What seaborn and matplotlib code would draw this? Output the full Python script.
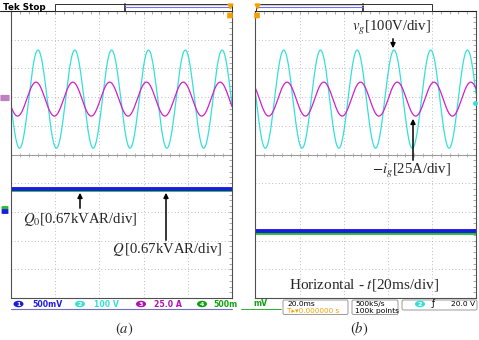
"""
Oscilloscope capture of grid voltage, grid current and reactive power,
two panels (a) and (b) side by side.
"""

import numpy as np
import pandas as pd
import matplotlib.pyplot as plt
import seaborn as sns
from matplotlib.patches import Rectangle, Ellipse, FancyBboxPatch
from matplotlib.ticker import MultipleLocator

W, H = 479, 340

# scope settings
FREQ_HZ = 60
TIME_DIV_MS = 20
N_XDIV = 5
N_YDIV = 10
VG_SCALE = 100.0     # V/div
IG_SCALE = 25.0      # A/div

# trace values
VG_PEAK = 171.0      # V
IG_PEAK = 14.8       # A
WAVE_POS_DIV = 1.93  # ch2/ch3 position
VG_FIRST_PEAK_MS = [12.2, 12.8]   # panel (a), (b)
IG_FIRST_PEAK_MS = [11.3, 14.3]
Q_LEVEL_DIV = [-1.20, -2.67]
Q0_LEVEL_DIV = [-1.25, -2.72]

PANEL_NAMES = ["(a)", "(b)"]

CYAN = "#35e0d8"
MAGENTA = "#d41ecc"
BLUE = "#1c1ce0"
GREEN = "#1fbf2a"
ORANGE = "#f5a000"
GRID = "#a8a8a8"

sns.set_style("white")
plt.rcParams["mathtext.fontset"] = "stix"
SERIF = ["Liberation Serif", "DejaVu Serif"]


def px_rect(x0, y0, x1, y1):
    return [x0 / W, 1 - y1 / H, (x1 - x0) / W, (y1 - y0) / H]


def draw_panel(ax, i):
    t = np.linspace(0, N_XDIV * TIME_DIV_MS, 1201)
    vg = VG_PEAK * np.cos(2 * np.pi * FREQ_HZ * (t - VG_FIRST_PEAK_MS[i]) / 1000)
    ig = IG_PEAK * np.cos(2 * np.pi * FREQ_HZ * (t - IG_FIRST_PEAK_MS[i]) / 1000)
    df = pd.concat([
        pd.DataFrame({"t": t, "div": vg / VG_SCALE + WAVE_POS_DIV, "trace": "vg"}),
        pd.DataFrame({"t": t, "div": ig / IG_SCALE + WAVE_POS_DIV, "trace": "ig"}),
    ])
    sns.lineplot(data=df, x="t", y="div", hue="trace", palette={"vg": CYAN, "ig": MAGENTA},
                 estimator=None, sort=False, legend=False, linewidth=0.9, ax=ax)

    q = pd.DataFrame({"t": [0, N_XDIV * TIME_DIV_MS], "q0": Q0_LEVEL_DIV[i], "q": Q_LEVEL_DIV[i]})
    sns.lineplot(data=q, x="t", y="q0", color=GREEN, linewidth=2.0, ax=ax)
    sns.lineplot(data=q, x="t", y="q", color=BLUE, linewidth=2.8, ax=ax)

    ax.set_xlim(0, N_XDIV * TIME_DIV_MS)
    ax.set_ylim(-N_YDIV / 2, N_YDIV / 2)
    ax.set_xlabel("")
    ax.set_ylabel("")
    ax.xaxis.set_major_locator(MultipleLocator(TIME_DIV_MS))
    ax.yaxis.set_major_locator(MultipleLocator(1))
    ax.xaxis.set_minor_locator(MultipleLocator(TIME_DIV_MS / 5))
    ax.yaxis.set_minor_locator(MultipleLocator(0.2))
    ax.tick_params(which="both", direction="in", length=2.2, width=0.5, color="#888888",
                   top=True, right=True, labelbottom=False, labelleft=False)
    ax.grid(True, which="major", color=GRID, linestyle=(0, (1, 3)), linewidth=0.6)
    ax.set_axisbelow(True)

    # centre graticule line with its minor ticks
    ax.axhline(0, color="#9a9a9a", linewidth=0.8, zorder=0.5)
    xm = np.arange(0, N_XDIV * TIME_DIV_MS, TIME_DIV_MS / 5)
    ax.plot(xm, np.zeros_like(xm), linestyle="none", marker="|", markersize=3,
            color="#9a9a9a", markeredgewidth=0.5, zorder=0.5)
    for s in ax.spines.values():
        s.set_color("#505050")
        s.set_linewidth(0.8)
    ax.spines["top"].set_color("#202020")


fig = plt.figure(figsize=(W / 100, H / 100), dpi=100)
ax_a = fig.add_axes(px_rect(11, 11, 232, 298))
ax_b = fig.add_axes(px_rect(255.5, 11, 476, 298))
draw_panel(ax_a, 0)
draw_panel(ax_b, 1)

ov = fig.add_axes([0, 0, 1, 1], zorder=10)
ov.set_xlim(0, W)
ov.set_ylim(H, 0)
ov.axis("off")
ov.patch.set_alpha(0)

# ---- header bars
ov.text(3, 7, "Tek Stop", fontsize=6.3, fontweight="bold", va="center", ha="left", color="black")
ov.plot([0, 11], [11, 11], color="#202020", lw=0.8)
for x0, x1, xd, blue_x in [(55, 232, 125, (125, 230)), (256, 432, 363, (256, 363))]:
    ov.add_patch(Rectangle((x0, 4), x1 - x0, 7, facecolor="white", edgecolor="#303030", lw=0.7))
    ov.plot([xd, xd], [4, 11], color="#202020", lw=1.2)
    ov.plot(blue_x, [7.3, 7.3], color="#6f6fff", lw=0.8)
    ov.plot(blue_x, [5.0, 5.0], color="#c8c8c8", lw=0.6)
for xt in [230, 257]:
    ov.plot([xt], [6], marker="v", markersize=3.5, color=ORANGE, linestyle="none")
    ov.add_patch(FancyBboxPatch((xt - 2.5, 13), 5, 5, boxstyle="round,pad=0.3",
                                facecolor=ORANGE, edgecolor="none"))

# ---- channel markers on the graticule edges
ov.add_patch(FancyBboxPatch((1, 95.5), 8, 5, boxstyle="round,pad=0.6", facecolor="#b060b0",
                            edgecolor="none", alpha=0.8))
ov.add_patch(FancyBboxPatch((2, 206.5), 6, 2.5, boxstyle="round,pad=0.4", facecolor=GREEN,
                            edgecolor="none"))
ov.add_patch(FancyBboxPatch((2, 209.5), 6, 4, boxstyle="round,pad=0.4", facecolor=BLUE,
                            edgecolor="none"))
ov.plot([475], [103], marker="o", markersize=2.5, color=CYAN, linestyle="none")

# ---- status bar, panel (a)
ov.plot([11, 232], [308.5, 308.5], color="#7070c0", lw=0.8)
for cx, col, num, lab, lx in [(18.5, BLUE, "1", "500mV", 32), (80, CYAN, "2", "100 V", 94),
                              (141, "#b010b0", "3", "25.0 A", 154), (202, "#10a010", "4", "500m", 213)]:
    ov.add_patch(Ellipse((cx, 304), 10, 6.5, facecolor=col, edgecolor="none"))
    ov.text(cx, 304.3, num, fontsize=4.5, color="white", ha="center", va="center", fontweight="bold")
    ov.text(lx, 304.3, lab, fontsize=5.6, color=col, ha="left", va="center", fontweight="bold",
            clip_on=True)

# ---- status bar, panel (b)
ov.text(253, 303.5, "mV", fontsize=5.6, color="#10a010", ha="left", va="center", fontweight="bold")
ov.plot([241, 281], [308.5, 308.5], color="#10a010", lw=0.6)
for x0, x1 in [(283, 348), (352, 398), (402, 477)]:
    ov.add_patch(FancyBboxPatch((x0, 300), x1 - x0, 14.5 if x1 < 400 else 10,
                                boxstyle="round,pad=0,rounding_size=1.5",
                                facecolor="white", edgecolor="#8a8a8a", lw=0.6))
ov.text(287, 303.8, "20.0ms", fontsize=5.4, ha="left", va="center", color="black")
ov.text(287, 311.2, "T\u25b8\u25be0.000000 s", fontsize=5.2, ha="left", va="center", color=ORANGE)
ov.text(355, 303.8, "500kS/s", fontsize=5.4, ha="left", va="center", color="black")
ov.text(355, 311.2, "100k points", fontsize=5.4, ha="left", va="center", color="black")
ov.add_patch(Ellipse((420, 304), 10, 6.5, facecolor=CYAN, edgecolor="none"))
ov.text(420, 304.3, "2", fontsize=4.5, color="white", ha="center", va="center", fontweight="bold")
ov.text(432, 304, "\u0192", fontsize=6, ha="left", va="center", color="black")
ov.text(475, 304, "20.0 V", fontsize=5.4, ha="right", va="center", color="black")

# ---- annotations
arrow = dict(arrowstyle="-|>", color="black", lw=1.1, mutation_scale=7)
ov.annotate("", xy=(80, 190), xytext=(80, 211), arrowprops=arrow)
ov.text(23, 219, r"$Q_0$[0.67kVAR/div]", family=SERIF, fontsize=10.6, ha="left", va="center")
ov.annotate("", xy=(166, 190), xytext=(166, 243), arrowprops=arrow)
ov.text(112, 250, r"$Q\,$[0.67kVAR/div]", family=SERIF, fontsize=10.6, ha="left", va="center")

ov.annotate("", xy=(393, 51), xytext=(393, 36), arrowprops=arrow)
ov.text(352, 28, r"$v_g$[100V/div]", family=SERIF, fontsize=10.6, ha="left", va="center")
ov.annotate("", xy=(413, 116), xytext=(413, 163), arrowprops=arrow)
ov.text(372, 171, r"$-i_g$[25A/div]", family=SERIF, fontsize=10.6, ha="left", va="center")
ov.text(289, 285, r"Horizontal - $t$[20ms/div]", family=SERIF, fontsize=11, ha="left",
        va="center")

ov.text(124, 329, r"$(a)$", fontsize=10.5, ha="center", va="center")
ov.text(359, 329, r"$(b)$", fontsize=10.5, ha="center", va="center")

fig.savefig("out.png", dpi=100)
